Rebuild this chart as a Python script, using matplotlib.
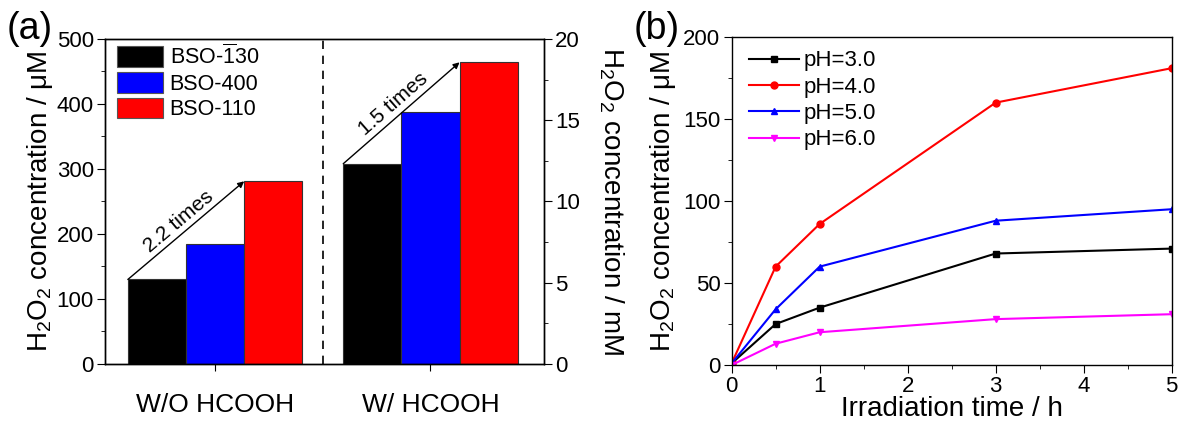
import numpy as np
import matplotlib.pyplot as plt
from matplotlib.patches import Patch
from matplotlib.ticker import MultipleLocator

plt.rcParams['font.family'] = ['Liberation Sans', 'DejaVu Sans']
plt.rcParams['mathtext.fontset'] = 'custom'
plt.rcParams['mathtext.rm'] = 'Liberation Sans'
plt.rcParams['mathtext.it'] = 'Liberation Sans'

# panel (a) data
groups = ["W/O HCOOH", "W/ HCOOH"]
samples = ["BSO-$\\overline{1}$30", "BSO-400", "BSO-110"]
bso_130 = [130, 308]
bso_400 = [184, 388]
bso_110 = [281, 464]
bar_colors = ["#000000", "#0000ff", "#ff0000"]
ratio_labels = ["2.2 times", "1.5 times"]

# panel (b) data
time_h = [0, 0.5, 1, 3, 5]
ph3 = [1, 25, 35, 68, 71]
ph4 = [1, 60, 86, 160, 181]
ph5 = [1, 34, 60, 88, 95]
ph6 = [0, 13, 20, 28, 31]
ph_labels = ["pH=3.0", "pH=4.0", "pH=5.0", "pH=6.0"]

fig = plt.figure(figsize=(11.8, 4.23), dpi=100)
ax1 = fig.add_axes([0.089, 0.1395, 0.372, 0.7685])
ax2 = fig.add_axes([0.620, 0.137, 0.373, 0.7755])

tick_fs = 16
label_fs = 20

# ---- panel (a)
x = np.array([1, 2])
w = 0.27
series = [bso_130, bso_400, bso_110]
for i, (vals, c) in enumerate(zip(series, bar_colors)):
    ax1.bar(x + (i - 1) * w, vals, width=w, color=c, edgecolor="#333333", linewidth=0.8)

ax1.set_xlim(0.489, 2.527)
ax1.set_ylim(0, 500)
ax1.set_xticks(x)
ax1.set_xticklabels(groups, fontsize=19)
ax1.tick_params(axis='x', pad=16, length=5)
ax1.yaxis.set_major_locator(MultipleLocator(100))
ax1.yaxis.set_minor_locator(MultipleLocator(50))
ax1.tick_params(axis='y', which='major', labelsize=tick_fs, length=6, pad=2)
ax1.tick_params(axis='y', which='minor', length=3)
ax1.set_ylabel("H$_2$O$_2$ concentration / μM", fontsize=label_fs, labelpad=1)
ax1.axvline(1.5, color='black', linestyle=(0, (5, 4)), linewidth=1.2)

ax1r = ax1.twinx()
ax1r.set_ylim(0, 20)
ax1r.yaxis.set_major_locator(MultipleLocator(5))
ax1r.yaxis.set_minor_locator(MultipleLocator(2.5))
ax1r.tick_params(axis='y', which='major', labelsize=tick_fs, length=6, pad=2)
ax1r.tick_params(axis='y', which='minor', length=3)
ax1r.set_ylabel("H$_2$O$_2$ concentration / mM", fontsize=label_fs, rotation=270, labelpad=33)

# arrows from black bar to red bar
fig.canvas.draw()
for gi in range(2):
    x0 = x[gi] - 1.5 * w
    y0 = bso_130[gi]
    x1 = x[gi] + 0.5 * w
    y1 = bso_110[gi]
    ax1.annotate("", xy=(x1, y1), xytext=(x0, y0),
                 arrowprops=dict(arrowstyle='-|>', color='black', lw=1.0,
                                 mutation_scale=9, shrinkA=0, shrinkB=0))
    p0 = ax1.transData.transform((x0, y0))
    p1 = ax1.transData.transform((x1, y1))
    ang = np.degrees(np.arctan2(p1[1] - p0[1], p1[0] - p0[0]))
    mid = (p0 + p1) / 2
    nrm = np.array([-np.sin(np.radians(ang)), np.cos(np.radians(ang))])
    tp = ax1.transData.inverted().transform(mid + nrm * 12)
    ax1.text(tp[0], tp[1], ratio_labels[gi], rotation=ang, fontsize=15,
             ha='center', va='center', rotation_mode='anchor')

handles = [Patch(facecolor=c, edgecolor="#555555", linewidth=0.8) for c in bar_colors]
ax1.legend(handles, samples, loc='upper left', bbox_to_anchor=(0.008, 1.01),
           frameon=False, fontsize=15.5, handlelength=2.14, handleheight=1.1,
           handletextpad=0.3, labelspacing=0.15, borderaxespad=0.0)

fig.text(0.006, 0.975, "(a)", fontsize=27, va='top')

# ---- panel (b)
styles = [(ph3, 'black', 's'), (ph4, '#ff0000', 'o'), (ph5, '#0000ff', '^'), (ph6, '#ff00ff', 'v')]
for (vals, c, m), lab in zip(styles, ph_labels):
    ax2.plot(time_h, vals, color=c, marker=m, markersize=5, linewidth=1.5, label=lab)

ax2.set_xlim(0, 5)
ax2.set_ylim(0, 200)
ax2.xaxis.set_major_locator(MultipleLocator(1))
ax2.xaxis.set_minor_locator(MultipleLocator(0.5))
ax2.yaxis.set_major_locator(MultipleLocator(50))
ax2.yaxis.set_minor_locator(MultipleLocator(25))
ax2.tick_params(which='major', labelsize=tick_fs, length=6, pad=2)
ax2.tick_params(which='minor', length=3)
ax2.set_xlabel("Irradiation time / h", fontsize=label_fs, labelpad=-1)
ax2.set_ylabel("H$_2$O$_2$ concentration / μM", fontsize=label_fs, labelpad=4)
ax2.legend(loc='upper left', bbox_to_anchor=(0.01, 1.0), frameon=False, fontsize=16,
           handlelength=2.25, handletextpad=0.2, labelspacing=0.24, borderaxespad=0.2)

fig.text(0.537, 0.975, "(b)", fontsize=27, va='top')

for a in (ax1, ax1r, ax2):
    for s in a.spines.values():
        s.set_linewidth(1.0)

fig.savefig("out.png", dpi=100)
